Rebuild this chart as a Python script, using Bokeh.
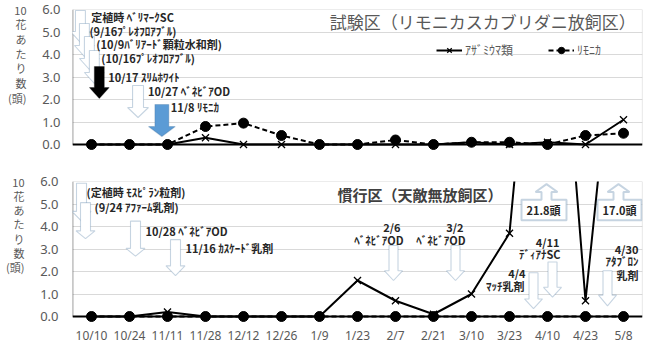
from bokeh.plotting import figure
from bokeh.layouts import column
from bokeh.models import (FactorRange, Range1d, FixedTicker, NumeralTickFormatter, Label,
                          PolyAnnotation, Span, BoxAnnotation, Legend, LegendItem,
                          ColumnDataSource, LinearAxis, CustomJSTickFormatter)
from bokeh.embed import file_html
from bokeh.resources import INLINE

# ---------------- data ----------------
dates = ["10/10", "10/24", "11/11", "11/28", "12/12", "12/26", "1/9", "1/23",
         "2/7", "2/21", "3/10", "3/23", "4/10", "4/23", "5/8"]
top_thrips = [0, 0, 0, 0.3, 0, 0, 0, 0, 0, 0, 0.1, 0, 0.1, 0, 1.1]
top_remonika = [0, 0, 0, 0.8, 0.95, 0.4, 0, 0, 0.2, 0, 0.1, 0.1, 0, 0.4, 0.5]
bot_thrips = [0, 0, 0.2, 0, 0, 0, 0, 1.6, 0.7, 0.1, 1.0, 3.7, 21.8, 0.7, 17.0]
bot_remonika = [0, 0, 0, 0, 0, 0, 0, 0, 0, 0, 0, 0, 0, 0, 0]
y_ticks = [0, 1, 2, 3, 4, 5, 6]
series_names = ["ｱｻﾞﾐｳﾏ類", "ﾘﾓﾆｶ"]
y_label_lines = ["10", "花", "あ", "た", "り", "数", "(頭)"]
top_title = "試験区（リモニカスカブリダニ放飼区）"
bot_title = "慣行区（天敵無放飼区）"
callout_texts = ["21.8頭", "17.0頭"]

JP = "Noto Sans CJK JP"
GRAY = "#595959"
DARK = "#262626"
ARROW_LINE = "#41719c"
LINE_STEP = 14.7  # px between stacked y-label characters


class Px:
    """pixel -> data converter for annotation placement"""
    def __init__(self, left, width, y0, unit):
        self.left, self.width, self.y0, self.unit = left, width, y0, unit

    def x(self, px):
        return (px - self.left) / self.width * len(dates)

    def y(self, py):
        return (self.y0 - py) / self.unit


def make_panel(h, left, right, top, bottom, thrips, remonika, show_x, standoff):
    p = figure(width=650, height=h,
               x_range=FactorRange(factors=dates, range_padding=0),
               y_range=Range1d(-0.4, 6),
               output_backend="svg", toolbar_location=None,
               min_border_left=left, min_border_right=right,
               min_border_top=top, min_border_bottom=bottom)
    p.outline_line_color = None
    p.background_fill_color = "white"
    p.border_fill_color = "white"
    p.xgrid.visible = False
    p.ygrid.ticker = FixedTicker(ticks=[1, 2, 3, 4, 5])
    p.ygrid.grid_line_color = "#d9d9d9"
    p.ygrid.grid_line_width = 1

    p.yaxis.ticker = FixedTicker(ticks=y_ticks)
    p.yaxis.formatter = NumeralTickFormatter(format="0.0")
    p.yaxis.axis_line_color = None
    p.yaxis.major_tick_line_color = None
    p.yaxis.minor_tick_line_color = None
    p.yaxis.major_tick_out = 0
    p.yaxis.major_tick_in = 0
    p.yaxis.major_label_standoff = standoff
    p.yaxis.major_label_text_font = "Noto Sans"
    p.yaxis.major_label_text_font_size = "13px"
    p.yaxis.major_label_text_color = GRAY

    # stacked vertical y-axis title, drawn as a second (label-only) axis
    frame_h = h - top - bottom
    p.extra_y_ranges = {"lab": Range1d(start=-frame_h / LINE_STEP, end=0)}
    lab_axis = LinearAxis(
        y_range_name="lab",
        ticker=FixedTicker(ticks=[-i for i in range(len(y_label_lines))]),
        formatter=CustomJSTickFormatter(
            args=dict(labels=y_label_lines),
            code="const i = Math.round(-tick); return (i >= 0 && i < labels.length) ? labels[i] : '';"),
        axis_line_color=None, major_tick_line_color=None, minor_tick_line_color=None,
        major_tick_out=0, major_tick_in=0, major_label_standoff=13,
        major_label_text_font=JP, major_label_text_font_size="11px",
        major_label_text_color=GRAY)
    p.add_layout(lab_axis, "left")

    if show_x:
        p.xaxis.axis_line_color = None
        p.xaxis.major_tick_line_color = None
        p.xaxis.minor_tick_line_color = None
        p.xaxis.major_tick_out = 0
        p.xaxis.major_tick_in = 0
        p.xaxis.major_label_standoff = 1
        p.xaxis.major_label_text_font = "Noto Sans"
        p.xaxis.major_label_text_font_size = "12px"
        p.xaxis.major_label_text_color = GRAY
    else:
        p.xaxis.visible = False

    # frame box (gray) + black axis lines at 0
    p.add_layout(BoxAnnotation(left=0, right=len(dates), bottom=0, top=6,
                               fill_color=None, fill_alpha=0,
                               line_color="#7f7f7f", line_width=1.2, level="underlay"))
    p.add_layout(Span(location=0, dimension="width", line_color="black",
                      line_width=2, level="underlay"))
    p.add_layout(PolyAnnotation(xs=[0, 0], ys=[0, 6], fill_alpha=0,
                                line_color="black", line_width=2, level="underlay"))

    src = ColumnDataSource(dict(x=dates, th=thrips, rm=remonika))
    l1 = p.line("x", "th", source=src, line_color="black", line_width=2)
    s1 = p.scatter("x", "th", source=src, marker="x", size=10,
                   line_color="black", line_width=1.3)
    l2 = p.line("x", "rm", source=src, line_color="black", line_width=2,
                line_dash="5 3")
    s2 = p.scatter("x", "rm", source=src, marker="circle", size=10,
                   fill_color="black", line_color="black")
    return p, (l1, s1, l2, s2)


def down_arrow(p, P, cx, top, head_top, tip, sw, hw, fill="white", line=ARROW_LINE):
    xs = [cx - sw / 2, cx + sw / 2, cx + sw / 2, cx + hw / 2, cx, cx - hw / 2, cx - sw / 2]
    ys = [top, top, head_top, head_top, tip, head_top, head_top]
    p.add_layout(PolyAnnotation(xs=[P.x(v) for v in xs], ys=[P.y(v) for v in ys],
                                fill_color=fill, fill_alpha=1,
                                line_color=line, line_width=1.1))


def up_callout(p, P, x1, x2, yt, yb, cx, sw, hw, yh, ytip):
    xs = [x1, x1, cx - sw / 2, cx - sw / 2, cx - hw / 2, cx, cx + hw / 2,
          cx + sw / 2, cx + sw / 2, x2, x2]
    ys = [yb, yt, yt, yh, yh, ytip, yh, yh, yt, yt, yb]
    p.add_layout(PolyAnnotation(xs=[P.x(v) for v in xs], ys=[P.y(v) for v in ys],
                                fill_color="white", fill_alpha=1,
                                line_color=ARROW_LINE, line_width=2))


def text(p, P, px, py, s, align="left", size="11px", bold=True, color=DARK):
    p.add_layout(Label(x=P.x(px), y=P.y(py), text=s, text_align=align,
                       text_baseline="middle", text_font=JP, text_font_size=size,
                       text_font_style="bold" if bold else "normal",
                       text_color=color))


# ---------------- top panel ----------------
top, (tl1, ts1, tl2, ts2) = make_panel(170, 69, 7, 9, 17, top_thrips, top_remonika,
                                       False, 12)
PT = Px(69, 574, 144, 144 / 6.4)

text(top, PT, 328, 21, top_title, size="17px", bold=False, color=GRAY)

# spray arrows (top)
down_arrow(top, PT, 77, 10, 31, 42, 10, 20)
down_arrow(top, PT, 81, 23, 45, 56, 10, 20)
down_arrow(top, PT, 86, 36, 58, 69, 10, 20)
down_arrow(top, PT, 91, 50, 72, 83, 10, 20)
down_arrow(top, PT, 96, 66, 87, 98, 10, 20, fill="black", line="black")
down_arrow(top, PT, 135, 85, 107, 117, 11, 21)
down_arrow(top, PT, 159, 104, 126, 136, 14, 27, fill="#5b9bd5", line=ARROW_LINE)

text(top, PT, 88, 16, "定植時 ﾍﾞﾘﾏｰｸSC")
text(top, PT, 86, 30, "(9/16ﾌﾟﾚｵﾌﾛｱﾌﾞﾙ)")
text(top, PT, 93, 43, "(10/9ﾊﾞﾘｱｰﾄﾞ顆粒水和剤)")
text(top, PT, 98, 57, "(10/16ﾌﾟﾚｵﾌﾛｱﾌﾞﾙ)")
text(top, PT, 105, 76, "10/17 ｽﾘﾑﾎﾜｲﾄ")
text(top, PT, 145, 90, "10/27 ﾍﾞﾈﾋﾞｱOD")
text(top, PT, 168, 106, "11/8 ﾘﾓﾆｶ")

legend = Legend(items=[LegendItem(label=series_names[0], renderers=[tl1, ts1]),
                       LegendItem(label=series_names[1], renderers=[tl2, ts2])],
                orientation="horizontal", location=(364, 95),
                padding=0, margin=0, spacing=35, label_standoff=3,
                glyph_width=26, glyph_height=16, label_height=16,
                border_line_color=None, background_fill_alpha=0,
                label_text_font=JP, label_text_font_size="12px",
                label_text_color=GRAY)
top.add_layout(legend)

# ---------------- bottom panel ----------------
bot, _ = make_panel(176, 72, 8, 11, 17, bot_thrips, bot_remonika, True, 14)
PB = Px(72, 570, 320, 148 / 6.4)

text(bot, PB, 337, 195, bot_title, size="15px", bold=True, color="#404040")

down_arrow(bot, PB, 81, 183, 212, 222, 10, 19)
down_arrow(bot, PB, 85, 203, 232, 240, 10, 19)
down_arrow(bot, PB, 135, 222, 250, 258, 10, 19)
down_arrow(bot, PB, 175, 241, 268, 278, 10, 19)
down_arrow(bot, PB, 393, 247, 273, 283, 9, 18)
down_arrow(bot, PB, 455, 247, 273, 283, 9, 18)
down_arrow(bot, PB, 533, 275, 302, 312, 9, 18)
down_arrow(bot, PB, 552, 264, 290, 300, 9, 18)
down_arrow(bot, PB, 607, 273, 298, 309, 9, 18)

text(bot, PB, 86, 192, "(定植時 ﾓｽﾋﾟﾗﾝ粒剤)")
text(bot, PB, 94, 207, "(9/24 ｱﾌｧｰﾑ乳剤)")
text(bot, PB, 145, 232, "10/28 ﾍﾞﾈﾋﾞｱOD")
text(bot, PB, 185, 250, "11/16 ｶｽｹｰﾄﾞ乳剤")
text(bot, PB, 400, 228, "2/6", align="right")
text(bot, PB, 403, 241, "ﾍﾞﾈﾋﾞｱOD", align="right")
text(bot, PB, 463, 228, "3/2", align="right")
text(bot, PB, 465, 241, "ﾍﾞﾈﾋﾞｱOD", align="right")
text(bot, PB, 525, 275, "4/4", align="right")
text(bot, PB, 524, 289, "ﾏｯﾁ乳剤", align="right")
text(bot, PB, 559, 243, "4/11", align="right")
text(bot, PB, 560, 256, "ﾃﾞｨｱﾅSC", align="right")
text(bot, PB, 638, 251, "4/30", align="right")
text(bot, PB, 638, 263, "ｱﾀﾌﾞﾛﾝ", align="right")
text(bot, PB, 638, 277, "乳剤", align="right")

up_callout(bot, PB, 521, 566, 200, 221, 546, 10, 22, 192, 184)
up_callout(bot, PB, 597, 641, 200, 221, 618, 10, 22, 192, 184)
text(bot, PB, 543, 211, callout_texts[0], align="center")
text(bot, PB, 619, 211, callout_texts[1], align="center")

layout = column(top, bot, spacing=0)
open("out.html", "w").write(file_html(layout, INLINE))
